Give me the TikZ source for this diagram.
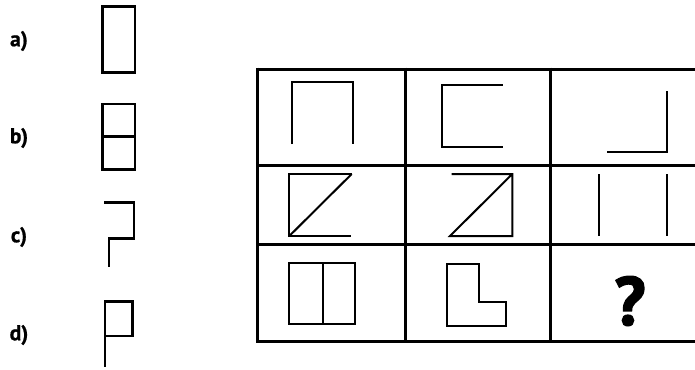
\documentclass[tikz,border=0pt]{standalone}
\usepackage{fontspec}
\setmainfont{PT Sans}
\newfontfamily\qfont[FakeBold=2.5]{PT Sans Bold}
\newfontfamily\lfont[FakeBold=0.8]{PT Sans Bold}
\begin{document}
\begin{tikzpicture}[x=1pt,y=-1pt,
  grid/.style={line width=3pt,black},
  fig/.style={line width=2pt,black,line join=miter},
  opt/.style={line width=2.5pt,black,line join=miter},
  lbl/.style={font=\fontsize{21.5}{21.5}\selectfont\lfont,anchor=center,inner sep=0pt}]
\useasboundingbox (0,0) rectangle (695,369);
% labels
\node[lbl] (la) at (19,41) {a)};
\node[lbl] (lb) at (19,138) {b)};
\node[lbl] (lc) at (19,237) {c)};
\node[lbl] (ld) at (19,335) {d)};
% options
\draw[opt] (102.7,6.7) rectangle (135,72.3);
\draw[opt] (102.7,104) rectangle (135,169.3);
\draw[opt] (102.7,136.5) -- (135,136.5);
\draw[opt] (104.3,202.3) -- (134,202.3) -- (134,238.3) -- (109,238.3) -- (109,267.3);
\draw[opt] (105,336) -- (132.7,336) -- (132.7,301.7) -- (105,301.7) -- (105,367);
% grid
\draw[grid] (257.5,69) -- (700,69);
\draw[grid] (257.5,165.5) -- (700,165.5);
\draw[grid] (257.5,244.5) -- (700,244.5);
\draw[grid] (257.5,341.5) -- (700,341.5);
\draw[grid] (257.5,67.5) -- (257.5,343);
\draw[grid] (405,67.5) -- (405,343);
\draw[grid] (550,67.5) -- (550,343);
% row 1
\draw[fig] (292,144) -- (292,82) -- (352.5,82) -- (352.5,144);
\draw[fig] (502.7,85) -- (441.7,85) -- (441.7,147.3) -- (502.7,147.3);
\draw[fig] (667.3,91) -- (667.3,151.7) -- (606.7,151.7);
% row 2
\draw[fig] (351.7,174) -- (289.3,174) -- (289.3,236) -- (350.7,236);
\draw[fig] (351.7,174) -- (289.3,236);
\draw[fig] (451.7,174) -- (512.3,174) -- (512.3,236) -- (450,236) -- (512.3,174);
\draw[fig] (599.3,174) -- (599.3,236);
\draw[fig] (667.3,174) -- (667.3,236);
% row 3
\draw[fig] (289.3,263.3) rectangle (355,324);
\draw[fig] (322.7,263.3) -- (322.7,324);
\draw[fig] (447.3,264) -- (447.3,326) -- (505.7,326) -- (505.7,301.7) -- (479,301.7) -- (479,264) -- cycle;
\node[font=\fontsize{68}{68}\selectfont\qfont,inner sep=0pt] (q) at (630,301) {?};
\end{tikzpicture}
\end{document}
